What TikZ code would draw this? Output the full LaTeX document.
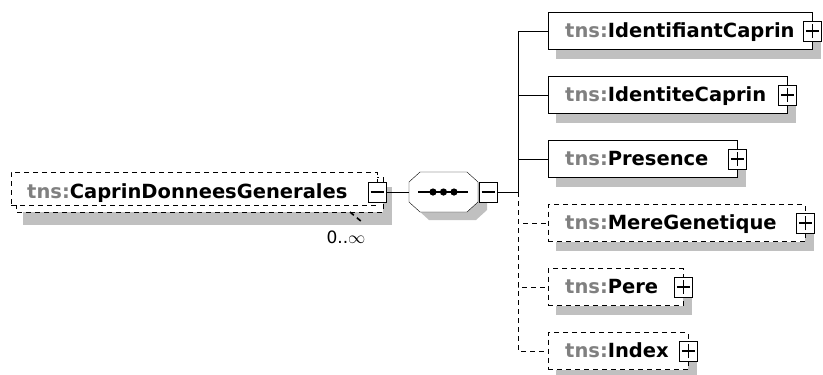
\documentclass[tikz,border=0pt]{standalone}
\usepackage{fontspec}
\setmainfont{DejaVu Sans}
\usetikzlibrary{calc}
\definecolor{shadowgray}{RGB}{192,192,192}
\definecolor{nsgray}{RGB}{128,128,128}
\pgfdeclarelayer{bg}
\pgfsetlayers{bg,main}
\newcommand\tnspre{\textcolor{nsgray}{tns:}}
\begin{document}
\begin{tikzpicture}[x=1bp,y=-1bp,line width=2bp,
  optline/.style={dash pattern=on 5bp off 4bp},
  elem/.style={draw,fill=white,inner sep=0pt,minimum height=37bp,anchor=west},
  optelem/.style={elem,optline},
  btn/.style={draw,solid,fill=white,inner sep=0pt,minimum width=18bp,minimum height=20bp},
  plusbtn/.style={btn,path picture={
    \draw[solid,line width=1.8bp] ([xshift=-6.5bp]path picture bounding box.center) -- ([xshift=6.5bp]path picture bounding box.center)
      ([yshift=-7bp]path picture bounding box.center) -- ([yshift=7bp]path picture bounding box.center);}},
  minusbtn/.style={btn,path picture={
    \draw[solid,line width=1.8bp] ([xshift=-6.5bp]path picture bounding box.center) -- ([xshift=6.5bp]path picture bounding box.center);}},
  lbl/.style={anchor=base west,inner sep=0pt,font=\fontsize{19.5bp}{22bp}\selectfont\bfseries},
  mult/.style={anchor=base,inner sep=0pt,font=\fontsize{17bp}{20bp}\selectfont},
  shadowbox/.style={fill=shadowgray,draw=none}]
\useasboundingbox (0,0) rectangle (823,374);

% ---- root element (stacked, optional, repeated) ----
\begin{pgfonlayer}{bg}
  \path[shadowbox] (23,187) rectangle (392,225);
\end{pgfonlayer}
\draw[optline,fill=white] (16,177) rectangle (383,212);
\node[optelem,anchor=north west,minimum width=366bp,minimum height=33bp] (root) at (11,172) {};
\node[lbl] (rootlbl) at (27,198) {\tnspre CaprinDonneesGenerales};
\node[minusbtn] (rb) at (377,192) {};
\coordinate (tickA) at (350,212);
\coordinate (tickB) at (362,222);
\draw[optline,line width=1.6bp] (tickA) -- (tickB);
\node[mult] (mul) at (346,243) {0..\(\infty\)};

% ---- sequence compositor ----
\node[minimum width=69bp,minimum height=40bp,inner sep=0pt] (seq) at (443.5,192) {};
\begin{pgfonlayer}{bg}
  \path[shadowbox] (429,180) -- (476,180) -- (487,190) -- (487,210) -- (476,220) -- (429,220) -- (418,210) -- (418,190) -- cycle;
\end{pgfonlayer}
\draw[fill=white] (420,172) -- (467,172) -- (478,182) -- (478,202) -- (467,212) -- (420,212) -- (409,202) -- (409,182) -- cycle;
\draw[line width=1.8bp] (418,192) -- (468,192);
\foreach \dx in {433,443.5,454} \fill (\dx,192) circle (3.6bp);
\node[minusbtn] (sb) at (488,192) {};
\draw (rb.east) -- (seq.west);
\coordinate (t) at (518,192);
\draw (sb.east) -- (t);

% ---- children ----
\node[elem,minimum width=264bp] (n1) at (548,31) {};
\node[elem,minimum width=239bp] (n2) at (548,95) {};
\node[elem,minimum width=189bp] (n3) at (548,159) {};
\node[optelem,minimum width=257bp] (n4) at (548,223) {};
\node[optelem,minimum width=135bp] (n5) at (548,287) {};
\node[optelem,minimum width=140bp] (n6) at (548,351) {};

\begin{pgfonlayer}{bg}
  \foreach \n in {n1,n2,n3,n4,n5,n6}
    \path[shadowbox] ($(\n.south west)+(8,9)$) rectangle ($(\n.north east)+(9,9)$);
\end{pgfonlayer}

\node[lbl] (l1) at ($(n1.west)+(17,6.5)$) {\tnspre IdentifiantCaprin};
\node[lbl] (l2) at ($(n2.west)+(17,6.5)$) {\tnspre IdentiteCaprin};
\node[lbl] (l3) at ($(n3.west)+(17,6.5)$) {\tnspre Presence};
\node[lbl] (l4) at ($(n4.west)+(17,6.5)$) {\tnspre MereGenetique};
\node[lbl] (l5) at ($(n5.west)+(17,6.5)$) {\tnspre Pere};
\node[lbl] (l6) at ($(n6.west)+(17,6.5)$) {\tnspre Index};

\foreach \n in {n1,n2,n3,n4,n5,n6}
  \node[plusbtn] (b\n) at (\n.east) {};

\draw (t) |- (n1.west);
\draw (t) |- (n2.west);
\draw (t) |- (n3.west);
\draw[optline] (t) |- (n4.west);
\draw[optline] (t) |- (n5.west);
\draw[optline] (t) |- (n6.west);
\end{tikzpicture}
\end{document}
